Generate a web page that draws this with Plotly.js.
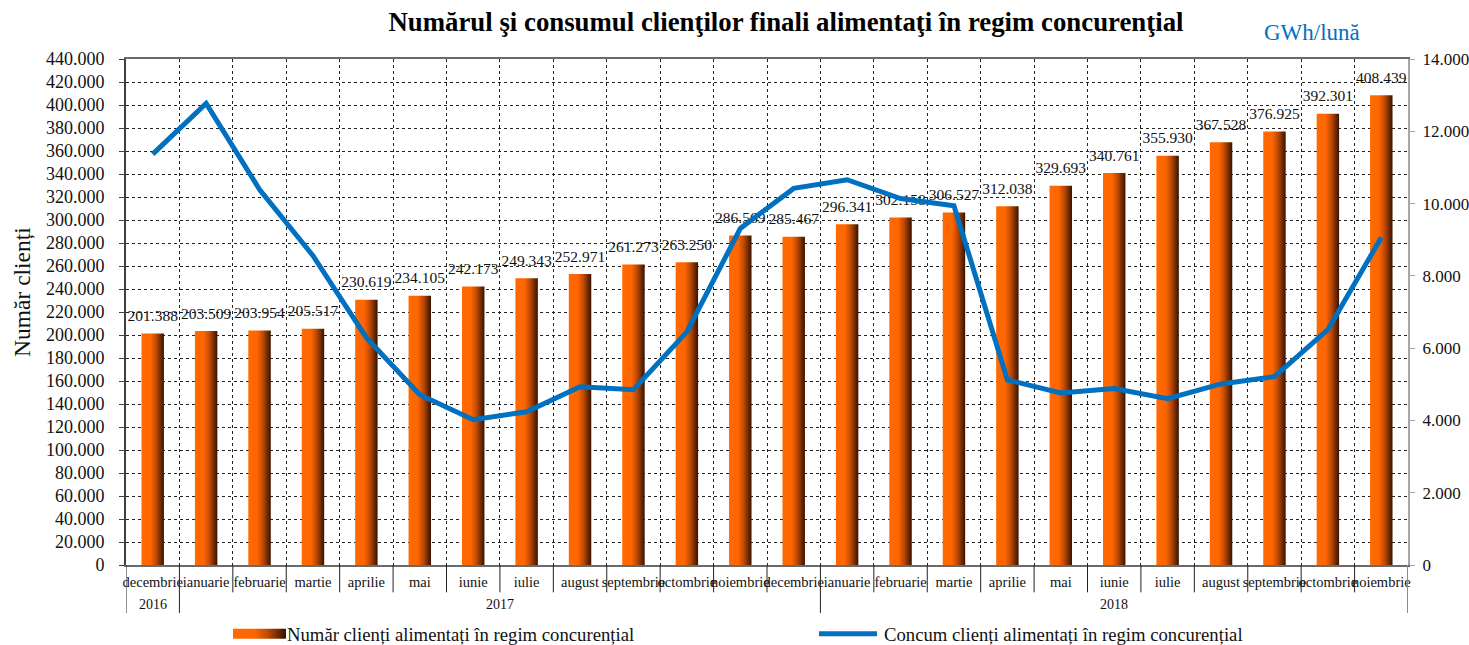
<!DOCTYPE html>
<html>
<head>
<meta charset="utf-8">
<script src="https://cdn.plot.ly/plotly-3.0.1.min.js"></script>
<style>
html,body{margin:0;padding:0;background:#fff;}
#chart{width:1469px;height:645px;}
</style>
</head>
<body>
<div id="chart"></div>
<script>
const months = ['decembrie','ianuarie','februarie','martie','aprilie','mai','iunie','iulie','august','septembrie','octombrie','noiembrie','decembrie','ianuarie','februarie','martie','aprilie','mai','iunie','iulie','august','septembrie','octombrie','noiembrie'];
const years = ['2016','2017','2017','2017','2017','2017','2017','2017','2017','2017','2017','2017','2017','2018','2018','2018','2018','2018','2018','2018','2018','2018','2018','2018'];
const clients = [201388,203509,203954,205517,230619,234105,242173,249343,252971,261273,263250,286569,285467,296341,302158,306527,312038,329693,340761,355930,367528,376925,392301,408439];
const consumption = [11370,12770,10390,8560,6290,4710,4020,4240,4930,4850,6450,9310,10420,10660,10140,9940,5120,4760,4880,4600,5010,5210,6510,9060];

const serif = '"Liberation Serif", "Times New Roman", serif';
const yearList = [...new Set(years)];
// unique category keys (zero-width spaces keep repeated month names distinct)
const cats = months.map((m, i) => m + '\u200b'.repeat(yearList.indexOf(years[i])));

const traces = [
  {
    type: 'bar', x: cats, y: clients,
    name: 'Număr clienți alimentați în regim concurențial',
    marker: {color: '#ff6600', line: {width: 0}},
    width: 0.42, legend: 'legend',
    hoverinfo: 'y'
  },
  {
    type: 'scatter', mode: 'markers+text', x: cats, y: clients,
    texttemplate: '%{y:,.0f}',
    textposition: 'top center',
    textfont: {family: serif, size: 15.5, color: '#111'},
    marker: {size: 12, opacity: 0},
    showlegend: false, hoverinfo: 'skip', cliponaxis: false
  },
  {
    type: 'scatter', mode: 'lines', x: cats, y: consumption, yaxis: 'y2',
    name: 'Concum clienți alimentați în regim concurențial',
    line: {color: '#0070c0', width: 5}, legend: 'legend2',
    hoverinfo: 'y'
  }
];

// separators under the category axis, built from the category list
const shapes = [];
for (let i = 0; i <= cats.length; i++) {
  const yearEdge = (i === 0 || i === cats.length || years[i] !== years[i - 1]);
  shapes.push({
    type: 'line', xref: 'x', yref: 'paper', x0: i - 0.5, x1: i - 0.5,
    y0: 0, y1: yearEdge ? -0.095 : -0.054,
    line: {color: i === cats.length ? '#8c8c8c' : '#222', width: i === cats.length ? 2 : 1}
  });
}
const annotations = yearList.map(yr => {
  const idx = years.map((v, i) => v === yr ? i : -1).filter(i => i >= 0);
  return {
    text: yr, showarrow: false, xref: 'x', yref: 'paper',
    x: (idx[0] + idx[idx.length - 1]) / 2, y: -0.079, xanchor: 'center', yanchor: 'middle',
    font: {family: serif, size: 14, color: '#111'}
  };
});
annotations.push(
  {
    text: 'Număr clienți', textangle: -90, showarrow: false,
    xref: 'paper', yref: 'paper', x: (22 - 126) / 1282, y: (565 - 292) / 506, xanchor: 'center', yanchor: 'middle',
    font: {family: serif, size: 23.5, color: '#111'}
  },
  {
    text: 'GWh/lună', showarrow: false,
    xref: 'paper', yref: 'paper', x: (1312 - 126) / 1282, y: (565 - 32) / 506,
    xanchor: 'center', yanchor: 'middle',
    font: {family: serif, size: 23, color: '#0070c0'}
  }
);

const layout = {
  width: 1469, height: 645,
  margin: {l: 126, r: 61, t: 59, b: 80, autoexpand: false},
  paper_bgcolor: '#fff', plot_bgcolor: '#fff',
  separators: ',.',
  font: {family: serif, color: '#111'},
  title: {
    text: '<b>Numărul şi consumul clienţilor finali alimentaţi în regim concurenţial</b>',
    font: {family: serif, size: 26.8, color: '#000'},
    x: 786 / 1469, xanchor: 'center', y: 1 - 22 / 645, yanchor: 'middle'
  },
  showlegend: true,
  legend: {
    orientation: 'h', x: (225 - 126) / 1282, xanchor: 'left', y: (565 - 634) / 506, yanchor: 'middle',
    font: {family: serif, size: 18.7, color: '#111'}, itemwidth: 52, bgcolor: 'rgba(0,0,0,0)'
  },
  legend2: {
    orientation: 'h', x: (817 - 126) / 1282, xanchor: 'left', y: (565 - 634) / 506, yanchor: 'middle',
    font: {family: serif, size: 18.7, color: '#111'}, itemwidth: 57, bgcolor: 'rgba(0,0,0,0)'
  },
  xaxis: {
    type: 'category', tickangle: 0, range: [-0.5, cats.length - 0.5], autorange: false,
    showline: true, linecolor: '#6a6a6a', linewidth: 2, mirror: true,
    showgrid: true, gridcolor: '#222', griddash: 'dot', gridwidth: 1,
    tickson: 'boundaries', ticks: '', ticklabelstandoff: 3,
    tickfont: {family: serif, size: 14.5, color: '#111'},
    zeroline: false
  },
  yaxis: {
    range: [0, 440000], dtick: 20000, tickformat: ',.0f',
    showline: true, linecolor: '#404040', linewidth: 2,
    ticks: 'outside', ticklen: 5, tickcolor: '#404040', ticklabelstandoff: 11,
    showgrid: true, gridcolor: '#222', griddash: 'dot', gridwidth: 1,
    tickfont: {family: serif, size: 18, color: '#111'},
    zeroline: false
  },
  yaxis2: {
    overlaying: 'y', side: 'right',
    range: [0, 14000], dtick: 2000, tickformat: ',.0f',
    showline: true, linecolor: '#a6a6a6', linewidth: 2,
    ticks: 'outside', ticklen: 5, tickcolor: '#a6a6a6', ticklabelstandoff: 4,
    showgrid: false, zeroline: false,
    tickfont: {family: serif, size: 17, color: '#111'}
  },
  shapes: shapes,
  annotations: annotations
};

function applyGradient(gd) {
  const svg = gd.querySelector('svg.main-svg');
  if (!svg) return;
  let defs = svg.querySelector('defs');
  if (!defs) { defs = document.createElementNS('http://www.w3.org/2000/svg', 'defs'); svg.insertBefore(defs, svg.firstChild); }
  if (!svg.querySelector('#barGrad')) {
    const g = document.createElementNS('http://www.w3.org/2000/svg', 'linearGradient');
    g.setAttribute('id', 'barGrad');
    g.setAttribute('x1', '0'); g.setAttribute('x2', '1'); g.setAttribute('y1', '0'); g.setAttribute('y2', '0');
    [['0%', '#ff6a00'], ['40%', '#ff6600'], ['65%', '#c04a00'], ['100%', '#361200']].forEach(([o, c]) => {
      const s = document.createElementNS('http://www.w3.org/2000/svg', 'stop');
      s.setAttribute('offset', o); s.setAttribute('stop-color', c); g.appendChild(s);
    });
    defs.appendChild(g);
  }
  gd.querySelectorAll('.barlayer .point path').forEach(p => { p.style.fill = 'url(#barGrad)'; });
  gd.querySelectorAll('g.legend .legendpoints path').forEach(p => {
    p.setAttribute('d', 'M-23,5H30V-5H-23Z');
    p.style.fill = 'url(#barGrad)';
    p.style.stroke = 'none';
  });
  gd.querySelectorAll('g.legend2 .legendlines path').forEach(p => {
    p.setAttribute('d', 'M2,0h58');
  });
}

Plotly.newPlot('chart', traces, layout, {displayModeBar: false, staticPlot: true}).then(gd => {
  applyGradient(gd);
  gd.on('plotly_afterplot', () => applyGradient(gd));
});
</script>
</body>
</html>
